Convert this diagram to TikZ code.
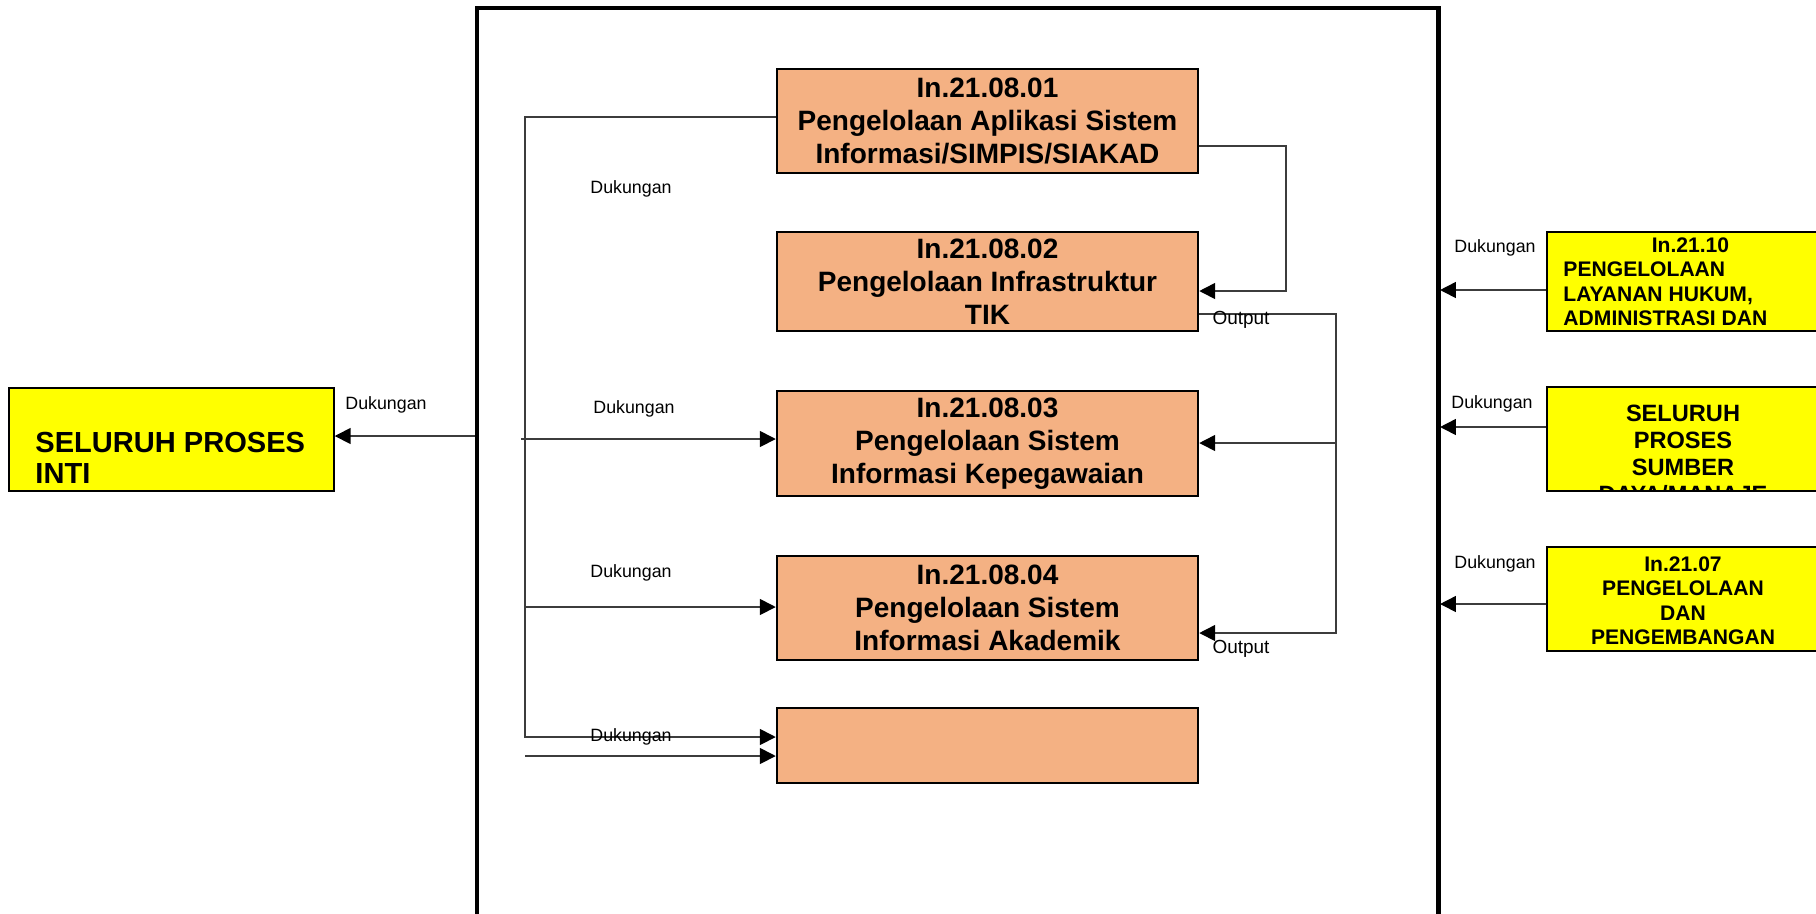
\documentclass[tikz,border=0pt]{standalone}
\usepackage{fontspec}
\setmainfont{Liberation Sans}
\usepackage{xcolor}
\usepackage{tikz}
\usetikzlibrary{arrows.meta,positioning,calc}

\definecolor{prosesorange}{RGB}{244,177,131}
\definecolor{dukungyellow}{RGB}{255,255,0}
\definecolor{garisgray}{RGB}{60,60,60}

\begin{document}
\begin{tikzpicture}[x=0.015cm,y=-0.015cm,
		proses/.style={draw, line width=1.05pt, fill=prosesorange, minimum width=6.315cm, inner sep=0pt, align=center, font=\fontsize{11.95}{14.1}\selectfont\bfseries},
		dukung/.style={draw, line width=0.6pt, fill=dukungyellow, inner sep=0pt},
		panah/.style={draw=garisgray, line width=0.7pt, -{Triangle[length=6.8pt,width=6.8pt,color=black]}},
		ket/.style={inner sep=0pt, anchor=base, font=\fontsize{7.6}{9}\selectfont}]
		\useasboundingbox (0,0) rectangle (1816,913);
		\clip (0,0) rectangle (1816,913);

		% bingkai proses TIK
		\node[draw, line width=2.1pt, minimum width=14.415cm, minimum height=13.98cm, inner sep=0pt] (bingkai) at (957.5,474) {};

		\node[proses, minimum height=1.56cm] (aplikasi) at (987.5,121) {In.21.08.01\\Pengelolaan Aplikasi Sistem\\Informasi/SIMPIS/SIAKAD};
		\node[proses, minimum height=1.485cm] (infra) at (987.5,281.5) {In.21.08.02\\Pengelolaan Infrastruktur\\TIK};
		\node[proses, minimum height=1.575cm] (kepeg) at (987.5,443.5) {In.21.08.03\\Pengelolaan Sistem\\Informasi Kepegawaian};
		\node[proses, minimum height=1.56cm] (akad) at (987.5,608) {In.21.08.04\\Pengelolaan Sistem\\Informasi Akademik};
		\node[proses, minimum height=1.125cm] (kosong) at (987.5,745.5) {};

		% proses di luar
		\node[dukung, minimum width=4.875cm, minimum height=1.545cm] (inti) at (171.5,439.5) {};
		\node[anchor=north west, inner sep=0pt, align=left, font=\fontsize{12.4}{13.2}\selectfont\bfseries] (intiteks) at (35,432) {SELURUH PROSES\\INTI};

		\node[dukung, minimum width=4.095cm, minimum height=1.485cm] (hukum) at (1683.5,281.5) {};
		\node[anchor=north west, inner sep=0pt, font=\fontsize{9}{10.46}\selectfont\bfseries] (hukumteks) at (1563,237) {
			\begin{minipage}{3.81cm}
				\centering In.21.10\par
				\raggedright PENGELOLAAN\\
				LAYANAN HUKUM,\\
				ADMINISTRASI DAN
			\end{minipage}
		};

		\node[dukung, minimum width=4.095cm, minimum height=1.56cm] (sdm) at (1683.5,439) {};
		\begin{scope}
			\clip (sdm.south west) rectangle (sdm.north east);
			\node[anchor=north, inner sep=0pt, align=center, font=\fontsize{10.07}{11.52}\selectfont\bfseries] (sdmteks) at (1683,405) {SELURUH\\PROSES\\SUMBER\\DAYA/MANAJE};
		\end{scope}

		\node[dukung, minimum width=4.095cm, minimum height=1.56cm] (kembang) at (1683.5,599) {};
		\node[anchor=north, inner sep=0pt, align=center, font=\fontsize{9}{10.46}\selectfont\bfseries] (kembangteks) at (1683,556) {In.21.07\\PENGELOLAAN\\DAN\\PENGEMBANGAN};

		% garis dukungan kiri
		\coordinate (atas) at (525,117);
		\coordinate (bawah) at (525,737);
		\coordinate (kiri3) at (521,439);
		\coordinate (kiri4) at (525,607);
		\coordinate (kiri5) at (525,756);
		\coordinate (keluar) at (475,436);

		\draw[panah] (aplikasi.west |- atas) -- (atas) -- (bawah) -- (kosong.west |- bawah);
		\draw[panah] (kiri3) -- (kepeg.west |- kiri3);
		\draw[panah] (kiri4) -- (akad.west |- kiri4);
		\draw[panah] (kiri5) -- (kosong.west |- kiri5);
		\draw[panah] (keluar) -- (inti.east |- keluar);

		% garis output kanan
		\coordinate (putarA) at (1286,146);
		\coordinate (putarB) at (1286,291);
		\coordinate (outA) at (1336,314);
		\coordinate (cabang) at (1336,443);
		\coordinate (outB) at (1336,633);

		\draw[panah] (aplikasi.east |- putarA) -- (putarA) -- (putarB) -- (infra.east |- putarB);
		\draw[panah] (infra.east |- outA) -- (outA) -- (outB) -- (akad.east |- outB);
		\draw[panah] (cabang) -- (kepeg.east |- cabang);

		% dukungan dari kanan
		\coordinate (masuk1) at (1440,290);
		\coordinate (masuk2) at (1440,427);
		\coordinate (masuk3) at (1440,604);

		\draw[panah] (hukum.west |- masuk1) -- (masuk1);
		\draw[panah] (sdm.west |- masuk2) -- (masuk2);
		\draw[panah] (kembang.west |- masuk3) -- (masuk3);

		\node[ket] (dk1) at (631,193) {Dukungan};
		\node[ket] (dk2) at (634,413) {Dukungan};
		\node[ket] (dk3) at (631,577) {Dukungan};
		\node[ket] (dk4) at (631,741) {Dukungan};
		\node[ket] (dkinti) at (386,409) {Dukungan};
		\node[ket] (dkhukum) at (1495,252) {Dukungan};
		\node[ket] (dksdm) at (1492,408) {Dukungan};
		\node[ket] (dkkembang) at (1495,568) {Dukungan};
		\node[ket, font=\fontsize{8.1}{9.5}\selectfont] (out1) at (1241,324) {Output};
		\node[ket, font=\fontsize{8.1}{9.5}\selectfont] (out2) at (1241,653) {Output};
	\end{tikzpicture}
\end{document}
